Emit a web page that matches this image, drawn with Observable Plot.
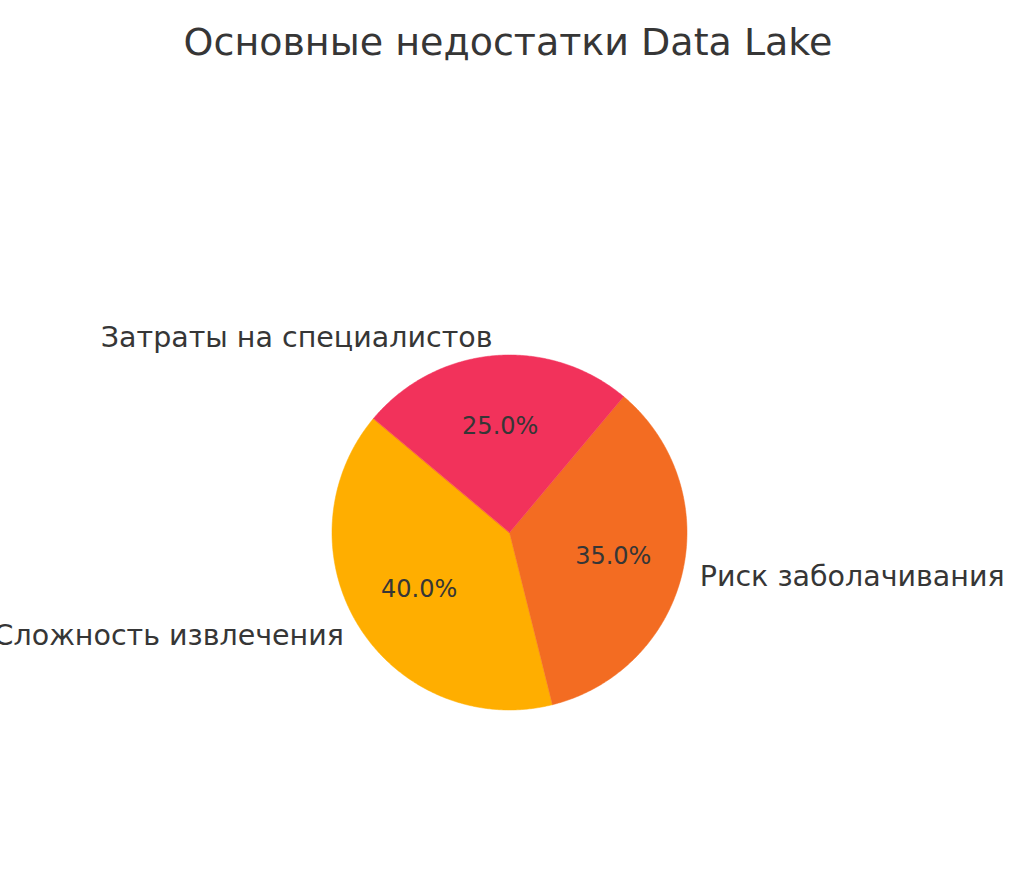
<!DOCTYPE html>
<html>
<head>
<meta charset="utf-8">
<script src="https://cdn.jsdelivr.net/npm/d3@7"></script>
<script src="https://cdn.jsdelivr.net/npm/@observablehq/plot@0.6"></script>
<style>
  html, body { margin: 0; padding: 0; background: #fff; }
  #title {
    width: 1024px; height: 80px; box-sizing: border-box;
    padding-top: 23px; padding-right: 8px; margin: 0;
    font-family: "DejaVu Sans", sans-serif; font-weight: normal;
    font-size: 38px; line-height: 38px; color: #363636;
    text-align: center;
  }
</style>
</head>
<body>
<h1 id="title">Основные недостатки Data Lake</h1>
<div id="chart"></div>
<script>
// Data
const categories = ["Сложность извлечения", "Риск заболачивания", "Затраты на специалистов"];
const shares = [40, 35, 25];
const colors = ["#FFAE00", "#F36C22", "#F2325B"];
const startAngle = 140; // degrees, counter-clockwise like matplotlib

// Layout (scale configuration)
const W = 1024, H = 803;
const R = 177.5, cx = 509, cy = 452;

const total = d3.sum(shares);
let cum = 0;
const slices = categories.map((label, i) => {
  const a0 = startAngle + 360 * cum / total;
  cum += shares[i];
  const a1 = startAngle + 360 * cum / total;
  return {label, value: shares[i], a0, a1, mid: (a0 + a1) / 2};
});

const rad = (deg) => deg * Math.PI / 180;
const polys = [];
for (const s of slices) {
  polys.push({label: s.label, x: 0, y: 0});
  const n = Math.max(2, Math.ceil((s.a1 - s.a0) / 0.5));
  for (let k = 0; k <= n; k++) {
    const t = rad(s.a0 + (s.a1 - s.a0) * k / n);
    polys.push({label: s.label, x: Math.cos(t), y: Math.sin(t)});
  }
}

const labels = slices.map(s => ({
  label: s.label,
  x: 1.1 * Math.cos(rad(s.mid)),
  y: 1.1 * Math.sin(rad(s.mid))
}));
const pcts = slices.map(s => ({
  text: (100 * s.value / total).toFixed(1) + "%",
  x: 0.6 * Math.cos(rad(s.mid)),
  y: 0.6 * Math.sin(rad(s.mid))
}));

const chart = Plot.plot({
  width: W, height: H,
  margin: 0,
  style: {fontFamily: "DejaVu Sans, sans-serif", background: "#fff", overflow: "visible"},
  x: {domain: [-cx / R, (W - cx) / R], axis: null},
  y: {domain: [-(H - cy) / R, cy / R], axis: null},
  color: {domain: categories, range: colors},
  marks: [
    Plot.line(polys, {x: "x", y: "y", z: "label", fill: "label", stroke: "label", strokeWidth: 0.5, curve: "linear-closed"}),
    Plot.text(labels.filter(d => d.x < 0), {x: "x", y: "y", text: "label", textAnchor: "end", fontSize: 28.5, fill: "#363636"}),
    Plot.text(labels.filter(d => d.x >= 0), {x: "x", y: "y", text: "label", textAnchor: "start", fontSize: 28.5, fill: "#363636"}),
    Plot.text(pcts, {x: "x", y: "y", text: "text", fontSize: 24, fill: "#363636"})
  ]
});
document.getElementById("chart").appendChild(chart);
</script>
</body>
</html>
